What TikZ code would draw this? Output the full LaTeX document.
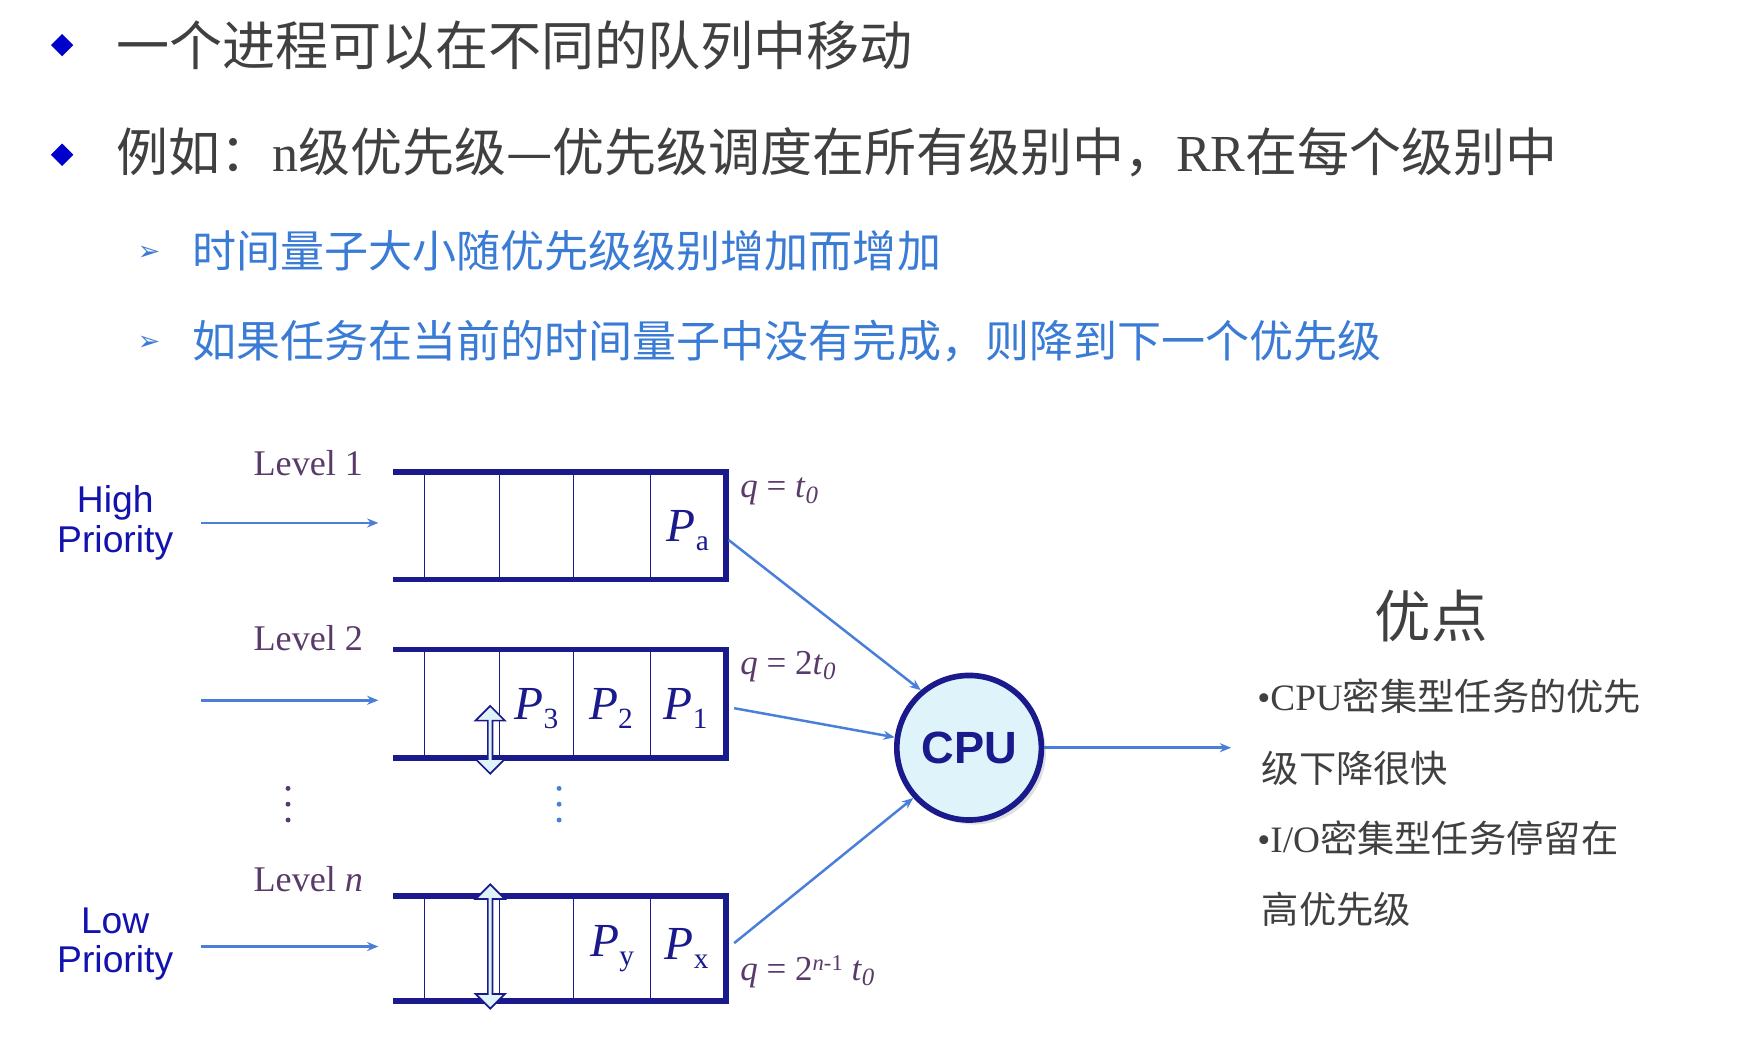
\documentclass[tikz,border=0pt]{standalone}
\usepackage{fontspec}
\newfontfamily\cjk{Noto Sans CJK SC}
\newfontfamily\tms{Liberation Serif}
\newfontfamily\ars{Liberation Sans}
\newfontfamily\djv{DejaVu Sans}
\usetikzlibrary{arrows.meta,shapes.arrows,shadows}
\definecolor{navy}{HTML}{1A1A8C}
\definecolor{arr}{HTML}{4A7FD9}
\definecolor{lb}{HTML}{3A7BD5}
\definecolor{pur}{HTML}{5A3A6A}
\definecolor{txt}{HTML}{404040}
\definecolor{cyanl}{HTML}{DFF3FB}
\newcommand{\Pl}[1]{{\tms\itshape P}\raisebox{-8pt}{\tms\fontsize{26}{26}\selectfont #1}}
\tikzset{
 thick line/.style={line width=5pt,draw=navy},
 thin line/.style={line width=0.8pt,draw=navy},
 flow/.style={draw=arr,line width=2.2pt,-{Stealth[length=10pt,width=8pt]}},
 lvl/.style={text=pur,font=\tms\fontsize{32}{34}\selectfont},
 plab/.style={text=navy,font=\fontsize{42}{42}\selectfont,inner sep=0pt},
 qlab/.style={text=pur,font=\tms\fontsize{31}{32}\selectfont,anchor=west},
 prio/.style={text=navy!70!blue,font=\ars\fontsize{33}{33}\selectfont,align=center},
 dbl/.style={double arrow,draw=navy,fill=cyanl,line width=1.5pt,minimum width=26pt,double arrow head extend=4pt,inner sep=0pt,rotate=90},
 bul/.style={fill=blue!80!black,shape=rectangle,rotate=45,minimum width=14pt,minimum height=14pt,inner sep=0pt},
}
\begin{document}
\begin{tikzpicture}[x=1pt,y=-1pt]
\useasboundingbox (0,0) rectangle (1560,926);
% bullets
\node[bul] (b1) at (55,40) {};
\node[bul] (b2) at (55,137) {};
\node[anchor=west,text=txt,font=\cjk\fontsize{47}{47}\selectfont,inner sep=0pt] (t1) at (103,40) {一个进程可以在不同的队列中移动};
\node[anchor=west,text=txt,font=\cjk\fontsize{46}{46}\selectfont,inner sep=0pt] (t2) at (103,135) {例如：{\tms n}级优先级—优先级调度在所有级别中，{\tms RR}在每个级别中};
\node[text=lb,font=\djv\fontsize{24}{24}\selectfont,inner sep=0pt] (s1) at (132,224) {➢};
\node[text=lb,font=\djv\fontsize{24}{24}\selectfont,inner sep=0pt] (s2) at (132,304) {➢};
\node[anchor=west,text=lb,font=\cjk\fontsize{39}{39}\selectfont,inner sep=0pt] (t3) at (170,222) {时间量子大小随优先级级别增加而增加};
\node[anchor=west,text=lb,font=\cjk\fontsize{39}{39}\selectfont,inner sep=0pt] (t4) at (170,302) {如果任务在当前的时间量子中没有完成，则降到下一个优先级};
% queues
\foreach \t/\b/\n in {418/513/1,575/671/2,793/886/3}{
  \draw[thick line] (348,\t) -- (643,\t) -- (643,\b) -- (348,\b);
  \foreach \x in {376,442,508,576} \draw[thin line] (\x,\t) -- (\x,\b);
}
\node[lvl] (l1) at (273,410) {Level 1};
\node[lvl] (l2) at (273,565) {Level 2};
\node[lvl] (l3) at (273,778) {Level \textit{n}};
\node[prio] (hp) at (102,463) {High\\[2pt]Priority};
\node[prio] (lp) at (102,836) {Low\\[2pt]Priority};
\coordinate (a1s) at (178,463); \coordinate (a1e) at (335,463);
\coordinate (a2s) at (178,620); \coordinate (a2e) at (335,620);
\coordinate (a3s) at (178,838); \coordinate (a3e) at (335,838);
\draw[flow] (a1s) -- (a1e); \draw[flow] (a2s) -- (a2e); \draw[flow] (a3s) -- (a3e);
\node[plab] (pa) at (609,470) {\Pl{a}};
\node[plab] (p3) at (475,627) {\Pl{3}};
\node[plab] (p2) at (541,627) {\Pl{2}};
\node[plab] (p1) at (607,627) {\Pl{1}};
\node[plab] (py) at (542,840) {\Pl{y}};
\node[plab] (px) at (608,840) {\Pl{x}};
\node[qlab] (q1) at (652,435) {\textit{q} = \textit{t}\raisebox{-5pt}{\fontsize{22}{22}\selectfont\textit{0}}};
\node[qlab] (q2) at (652,590) {\textit{q} = 2\textit{t}\raisebox{-5pt}{\fontsize{22}{22}\selectfont\textit{0}}};
\node[qlab] (q3) at (652,860) {\textit{q} = 2\raisebox{9pt}{\fontsize{20}{20}\selectfont\textit{n}-1} \textit{t}\raisebox{-5pt}{\fontsize{22}{22}\selectfont\textit{0}}};
\foreach \y in {698,712,726} \fill[pur] (255,\y) circle (2.2pt);
\foreach \y in {698,712,726} \fill[arr] (495,\y) circle (2.2pt);
\node[dbl,minimum height=60pt] (d1) at (434,655) {};
\node[dbl,minimum height=110pt] (d2) at (434,838) {};
\node[circle,draw=navy,line width=5pt,fill=cyanl,minimum size=128pt,drop shadow={shadow xshift=4pt,shadow yshift=-4pt,fill=gray!50},text=navy,font=\ars\bfseries\fontsize{40}{40}\selectfont] (cpu) at (858,662) {CPU};
\coordinate (o1) at (645,478); \coordinate (o2) at (650,627); \coordinate (o3) at (650,835);
\draw[flow] (o1) -- (cpu.130);
\draw[flow] (o2) -- (cpu.172);
\draw[flow] (o3) -- (cpu.222);
\coordinate (out) at (1090,662);
\draw[flow] (cpu.east) -- (out);
% advantages
\node[text=txt,font=\cjk\fontsize{50}{50}\selectfont] (adv) at (1267,545) {优点};
\begin{scope}[every node/.style={anchor=west,text=txt,font=\cjk\fontsize{33}{33}\selectfont,inner sep=0pt}]
\node (r1) at (1113,616) {{\tms •CPU}密集型任务的优先};
\node (r2) at (1117,680) {级下降很快};
\node (r3) at (1113,742) {{\tms •I/O}密集型任务停留在};
\node (r4) at (1117,805) {高优先级};
\end{scope}
\end{tikzpicture}
\end{document}
